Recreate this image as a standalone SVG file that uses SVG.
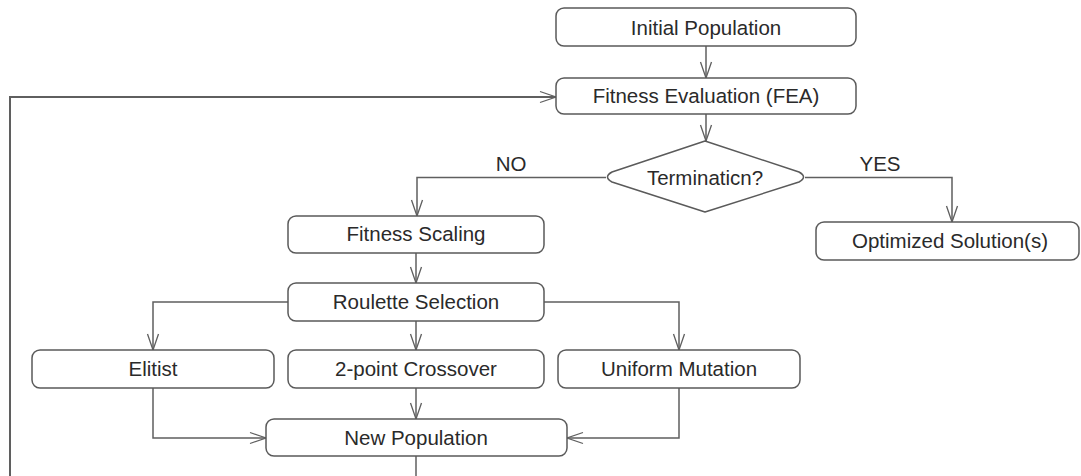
<svg xmlns="http://www.w3.org/2000/svg" width="1081" height="476" viewBox="0 0 1081 476">
<style>
.box{fill:#fff;stroke:#5a5a5a;stroke-width:1.5}
.t{font-family:"Liberation Sans",Arial,sans-serif;font-size:20.5px;fill:#2a2a2a;text-anchor:middle}
.c{fill:none;stroke:#5f5f5f;stroke-width:1.5}
.a{marker-end:url(#arr)}
</style>
<defs>
<marker id="arr" markerUnits="userSpaceOnUse" markerWidth="18" markerHeight="13" refX="16" refY="5.5" orient="auto" overflow="visible">
<path d="M0,0 L16,5.5 L0,11" fill="none" stroke="#5f5f5f" stroke-width="1.3"/>
</marker>
</defs>
<rect width="1081" height="476" fill="#fff"/>
<g id="connectors">
<path class="c a" d="M706,46 V78"/>
<path class="c a" d="M706,114 V141"/>
<path class="c a" d="M606,177.5 H417 V216"/>
<path class="c a" d="M805,177.5 H952 V222"/>
<path class="c a" d="M416,253 V283"/>
<path class="c a" d="M288,302 H153 V350"/>
<path class="c a" d="M416,321 V350"/>
<path class="c a" d="M544,302 H679 V350"/>
<path class="c a" d="M416,388 V419"/>
<path class="c a" d="M153,388 V438 H266"/>
<path class="c a" d="M679,388 V438 H567"/>
<path class="c" d="M416,456 V476"/>
<path class="c a" d="M10,476 V97 H556" style="stroke-width:2"/>
<text class="t" x="511" y="171">NO</text>
<text class="t" x="880" y="171">YES</text>
</g>
<g id="initial"><rect class="box" x="556" y="8" width="300" height="38" rx="8"/><text class="t" x="706" y="35">Initial Population</text></g>
<g id="fea"><rect class="box" x="556" y="78" width="300" height="36" rx="8"/><text class="t" x="706" y="103">Fitness Evaluation (FEA)</text></g>
<g id="termination"><path class="box" d="M612,172 L705,141 L799,172 Q808,177 799,182 L705,212 L612,182 Q603,177 612,172 Z" stroke-linejoin="round"/><text class="t" x="705" y="185">Terminaticn?</text></g>
<g id="scaling"><rect class="box" x="288" y="216" width="256" height="37" rx="8"/><text class="t" x="416" y="241">Fitness Scaling</text></g>
<g id="optimized"><rect class="box" x="816" y="222" width="263" height="38" rx="8"/><text class="t" x="950" y="248">Optimized Solution(s)</text></g>
<g id="roulette"><rect class="box" x="288" y="283" width="256" height="38" rx="8"/><text class="t" x="416" y="309">Roulette Selection</text></g>
<g id="elitist"><rect class="box" x="32" y="350" width="242" height="38" rx="8"/><text class="t" x="153" y="376">Elitist</text></g>
<g id="crossover"><rect class="box" x="288" y="350" width="256" height="38" rx="8"/><text class="t" x="416" y="376">2-point Crossover</text></g>
<g id="mutation"><rect class="box" x="558" y="350" width="242" height="38" rx="8"/><text class="t" x="679" y="376">Uniform Mutation</text></g>
<g id="newpop"><rect class="box" x="266" y="419" width="301" height="37" rx="8"/><text class="t" x="416" y="445">New Population</text></g>
</svg>
